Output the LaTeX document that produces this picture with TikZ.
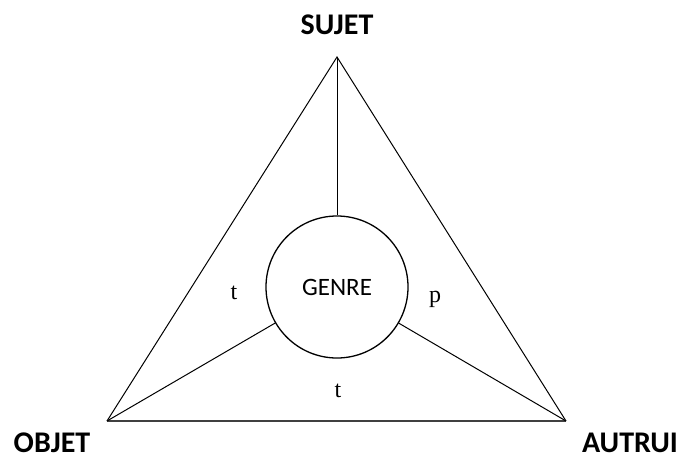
\documentclass[tikz,border=0pt]{standalone}
\usepackage{fontspec}
\setmainfont{Liberation Serif}
\newfontfamily\calib{Carlito}
\begin{document}
\begin{tikzpicture}[x=1pt,y=-1pt,
  edge/.style={line width=1pt,black},
  vlabel/.style={font=\calib\fontsize{30}{30}\selectfont\bfseries,inner sep=0pt},
  rlabel/.style={font=\fontsize{24}{24}\selectfont,anchor=base},
  circ/.style={circle,draw,line width=1.3pt,minimum size=142pt,inner sep=0pt,font=\calib\fontsize{25}{25}\selectfont}]
\useasboundingbox (0,0) rectangle (682,461);
\coordinate (s) at (337,57);
\coordinate (o) at (107,421);
\coordinate (a) at (566,421);
\node[circ] (g) at (337,287) {GENRE};
\node[vlabel] (ls) at (337,25) {SUJET};
\node[vlabel] (lo) at (52,443) {OBJET};
\node[vlabel] (la) at (630,443) {AUTRUI};
\node[rlabel] (t1) at (234,299) {t};
\node[rlabel] (p1) at (435,302) {p};
\node[rlabel] (t2) at (338,397) {t};
\draw[edge] (o) -- (s) -- (a);
\draw[line width=1.8pt,black!75] (o) -- (a);
\draw[edge] (s) -- (g.north);
\draw[edge] (o) -- (g);
\draw[edge] (a) -- (g);
\end{tikzpicture}
\end{document}
